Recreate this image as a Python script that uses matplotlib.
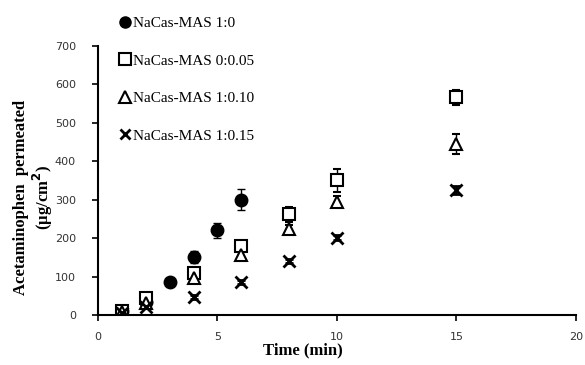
import matplotlib
matplotlib.use("Agg")
import matplotlib.pyplot as plt
from matplotlib.lines import Line2D

time_circle = [1, 2, 3, 4, 5, 6]
circle = [10, 35, 85, 151, 220, 300]
circle_err = [4, 6, 8, 15, 20, 27]

time_other = [1, 2, 4, 6, 8, 10, 15]
square = [10, 45, 108, 180, 262, 351, 566]
square_err = [4, 6, 15, 10, 20, 30, 20]
triangle = [8, 30, 95, 157, 223, 295, 445]
triangle_err = [3, 5, 10, 10, 12, 15, 25]
cross = [5, 22, 47, 85, 140, 201, 326]
cross_err = [2, 3, 5, 5, 5, 6, 10]

labels = ["NaCas-MAS 1:0", "NaCas-MAS 0:0.05", "NaCas-MAS 1:0.10", "NaCas-MAS 1:0.15"]
xticks = [0, 5, 10, 15, 20]
yticks = [0, 100, 200, 300, 400, 500, 600, 700]

fig = plt.figure(figsize=(5.85, 3.65), dpi=100)
ax = fig.add_axes([0.1675, 0.137, 0.817, 0.737])

common = dict(ls="none", ecolor="black", elinewidth=1, capsize=3, capthick=1, color="black")
ax.errorbar(time_circle, circle, yerr=circle_err, marker="o", ms=9, mfc="black", mec="black", **common)
ax.errorbar(time_other, square, yerr=square_err, marker="s", ms=8.5, mfc="white", mec="black", mew=1.5, **common)
ax.errorbar(time_other, triangle, yerr=triangle_err, marker="^", ms=9, mfc="white", mec="black", mew=1.5, **common)
ax.errorbar(time_other, cross, yerr=cross_err, marker="x", ms=8, mec="black", mew=2, **common)

ax.set_xlim(0, 20)
ax.set_ylim(0, 700)
ax.set_xticks(xticks)
ax.set_yticks(yticks)
for s in ["top", "right"]:
    ax.spines[s].set_visible(False)
for s in ["left", "bottom"]:
    ax.spines[s].set_linewidth(1.5)
ax.tick_params(direction="out", length=4, width=1.2, labelsize=8, labelcolor="#333333")
ax.tick_params(axis="y", pad=12)
ax.tick_params(axis="x", pad=8)
for lab in ax.get_xticklabels() + ax.get_yticklabels():
    lab.set_family("DejaVu Sans")

fig.text(0.518, 0.041, "Time (min)", ha="center", va="center",
         family="Liberation Serif", fontweight="bold", fontsize=12)
fig.text(0.036, 0.46, "Acetaminophen  permeated", rotation=90, ha="center", va="center",
         family="Liberation Serif", fontweight="bold", fontsize=12)
fig.text(0.073, 0.46, "(\u00b5g/cm$^\\mathbf{2}$)", rotation=90, ha="center", va="center",
         family="Liberation Serif", fontweight="bold", fontsize=12)

handles = [
    Line2D([], [], ls="none", marker="o", ms=8, mfc="black", mec="black"),
    Line2D([], [], ls="none", marker="s", ms=8, mfc="white", mec="black", mew=1.5),
    Line2D([], [], ls="none", marker="^", ms=8, mfc="white", mec="black", mew=1.5),
    Line2D([], [], ls="none", marker="x", ms=7.5, mec="black", mew=2),
]
fig.legend(handles, labels, loc="upper left", bbox_to_anchor=(0.19, 0.975), frameon=False,
           prop={"family": "Liberation Serif", "size": 11}, handlelength=0.8, handletextpad=0.1,
           labelspacing=1.55, borderpad=0)

fig.savefig("out.png", dpi=100)
